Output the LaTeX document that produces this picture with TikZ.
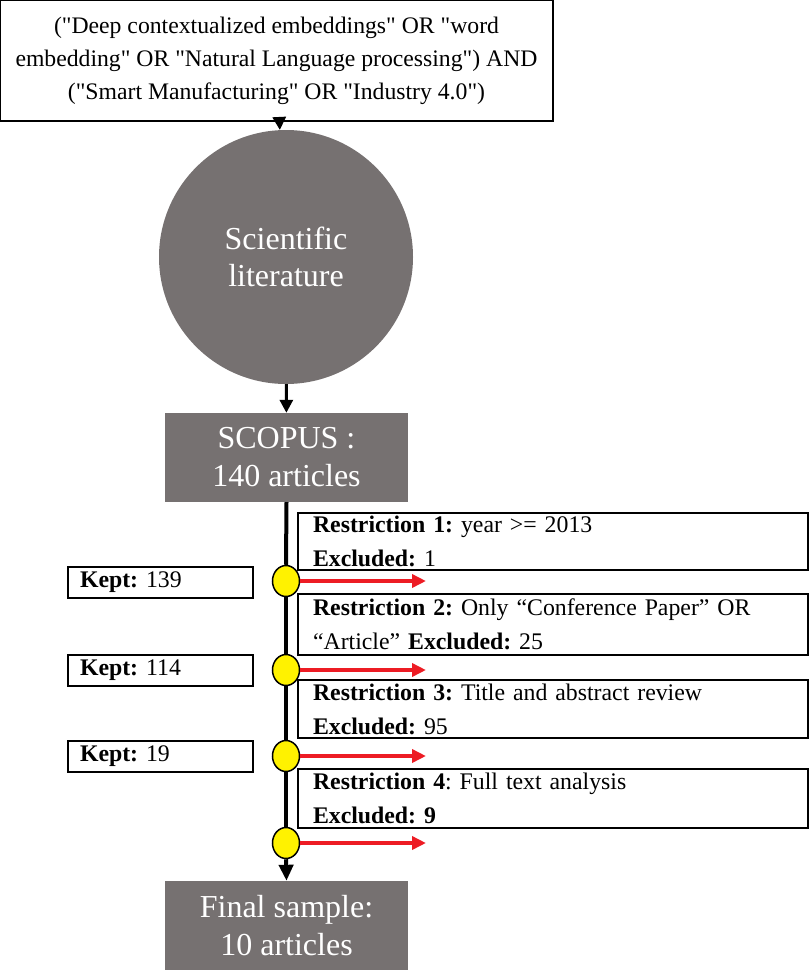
\documentclass[tikz,border=0pt]{standalone}
\usepackage{fontspec}
\setmainfont{Liberation Serif}[Ligatures=TeXOff]
\usetikzlibrary{shapes.geometric,arrows.meta}
\definecolor{slate}{RGB}{118,113,113}
\definecolor{dotyellow}{RGB}{255,242,0}
\definecolor{exred}{RGB}{237,28,36}
\frenchspacing

\begin{document}
\begin{tikzpicture}[x=1pt,y=-1pt,
    querybox/.style={draw, line width=1.8pt, align=center, inner sep=0pt,
        minimum width=553pt, minimum height=121pt, font=\fontsize{23.7}{33}\selectfont},
    greybox/.style={fill=slate, text=white, align=center, inner sep=0pt,
        minimum width=243pt, minimum height=89pt, font=\fontsize{32}{38}\selectfont},
    restrbox/.style={draw, line width=1.5pt, align=left, inner xsep=15pt, inner ysep=0pt,
        text width=480pt, font=\fontsize{23.8}{34}\selectfont},
    keptbox/.style={draw, line width=1.5pt, align=left, inner xsep=12pt, inner ysep=0pt,
        text width=161pt, minimum height=31pt, font=\fontsize{23.8}{26}\selectfont},
    stop/.style={ellipse, draw, line width=1.5pt, fill=dotyellow,
        minimum width=27pt, minimum height=31pt, inner sep=0pt},
    trunk/.style={line width=4pt},
    exarrow/.style={exred, line width=4pt, -{Triangle[length=14pt, width=13pt]}},
    ]
    \useasboundingbox (0,0) rectangle (809,970);

    % Search query
    \node[querybox] (query) at (276.5,60.5)
        {("Deep contextualized embeddings" OR "word\\
        embedding" OR "Natural Language processing") AND\\
        ("Smart Manufacturing" OR "Industry 4.0")};

    % Scientific literature
    \node[circle, fill=slate, text=white, minimum size=254pt, inner sep=0pt,
        align=center, font=\fontsize{32}{37}\selectfont] (lit) at (286,257)
        {Scientific\\literature};

    % Database and final sample
    \node[greybox] (scopus) at (286.5,457.5) {SCOPUS :\\140 articles};
    \node[greybox] (final) at (286.5,925.5) {Final sample:\\10 articles};

    % Restrictions
    \node[restrbox, minimum height=57pt] (r1) at (553,541.5)
        {\textbf{Restriction 1:} year >= 2013\\\textbf{Excluded:} 1};
    \node[restrbox, minimum height=61pt] (r2) at (553,624.5)
        {\textbf{Restriction 2:} Only “Conference Paper” OR\\“Article” \textbf{Excluded:} 25};
    \node[restrbox, minimum height=58pt] (r3) at (553,709)
        {\textbf{Restriction 3:} Title and abstract review\\\textbf{Excluded:} 95};
    \node[restrbox, minimum height=59pt] (r4) at (553,798.5)
        {\textbf{Restriction 4}: Full text analysis\\\textbf{Excluded: 9}};

    % Kept counts
    \node[keptbox] (kept1) at (160.5,582.5) {\textbf{Kept:} 139};
    \node[keptbox] (kept2) at (160.5,670.5) {\textbf{Kept:} 114};
    \node[keptbox] (kept3) at (160.5,756.5) {\textbf{Kept:} 19};

    % Checkpoints on the trunk
    \node[stop] (s1) at (286,581) {};
    \node[stop] (s2) at (286,670) {};
    \node[stop] (s3) at (286,756) {};
    \node[stop] (s4) at (286,843) {};

    % Excluded arrows end points
    \coordinate (e1) at (426,581);
    \coordinate (e2) at (426,670);
    \coordinate (e3) at (426,756);
    \coordinate (e4) at (426,843);

    % Connectors
    \draw[line width=3pt, -{Triangle[length=13pt, width=13pt]}] (query) -- (lit);
    \draw[line width=3pt, -{Triangle[length=13pt, width=13pt]}] (lit) -- (scopus);
    \draw[trunk] (scopus.south) -- (s1.north);
    \draw[trunk] (s1.south) -- (s2.north);
    \draw[trunk] (s2.south) -- (s3.north);
    \draw[trunk] (s3.south) -- (s4.north);
    \draw[trunk, -{Triangle[length=16pt, width=14pt]}] (s4.south) -- (final.north);
    \foreach \i in {1,...,4}
        \draw[exarrow] (s\i.east) -- (e\i);
\end{tikzpicture}
\end{document}
